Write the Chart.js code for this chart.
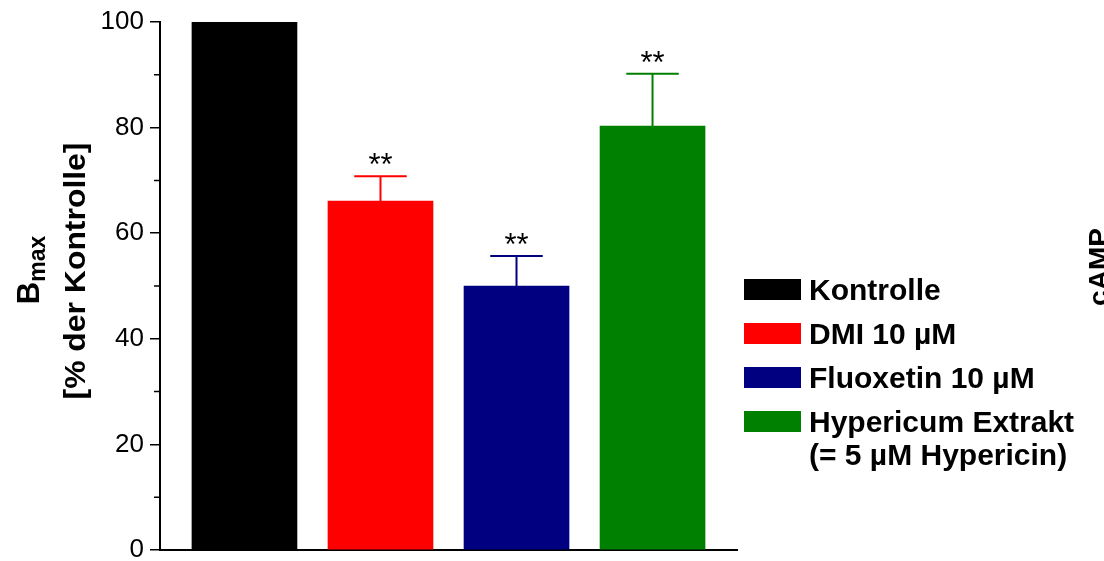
<!DOCTYPE html>
<html lang="de">
<head>
    <meta charset="UTF-8">
    <title>Bmax</title>
    <style>
        body {
            margin: 0;
            background-color: white;
        }
        #chartBox {
            width: 1104px;
            height: 561px;
        }
    </style>
    <script src="https://cdn.jsdelivr.net/npm/chart.js"></script>
</head>
<body>
    <div id="chartBox">
        <canvas id="bmaxChart" width="1104" height="561"></canvas>
    </div>

    <script>
        // Daten
        const categories = ['Kontrolle', 'DMI 10 µM', 'Fluoxetin 10 µM', 'Hypericum Extrakt'];
        const legendLines = [['Kontrolle'], ['DMI 10 µM'], ['Fluoxetin 10 µM'], ['Hypericum Extrakt', '(= 5 µM Hypericin)']];
        const bmaxValues = [100, 66.1, 50.0, 80.3];
        const errorValues = [0, 4.7, 5.7, 9.9];
        const significance = ['', '**', '**', '**'];
        const barColors = ['#000000', '#ff0000', '#000080', '#008000'];
        const majorTicks = [0, 20, 40, 60, 80, 100];
        const minorTicks = [10, 30, 50, 70, 90];

        const FONT = 'Arial, "Liberation Sans", sans-serif';

        // Fehlerbalken, Sterne und kleine Teilstriche
        const extrasPlugin = {
            id: 'extras',
            afterDatasetsDraw(chart) {
                const ctx = chart.ctx;
                const yScale = chart.scales.y;
                const meta = chart.getDatasetMeta(0);
                ctx.save();
                meta.data.forEach((bar, i) => {
                    if (!errorValues[i]) return;
                    const yTop = yScale.getPixelForValue(bmaxValues[i]);
                    const yErr = yScale.getPixelForValue(bmaxValues[i] + errorValues[i]);
                    const capHalf = bar.width / 4;
                    ctx.strokeStyle = barColors[i];
                    ctx.lineWidth = 2;
                    ctx.beginPath();
                    ctx.moveTo(bar.x, yTop);
                    ctx.lineTo(bar.x, yErr);
                    ctx.moveTo(bar.x - capHalf, yErr);
                    ctx.lineTo(bar.x + capHalf, yErr);
                    ctx.stroke();

                    ctx.fillStyle = '#000';
                    ctx.font = '31px ' + FONT;
                    ctx.textAlign = 'center';
                    ctx.textBaseline = 'alphabetic';
                    ctx.fillText(significance[i], bar.x, yErr - 1);
                });

                // kleine Teilstriche
                ctx.strokeStyle = '#000';
                ctx.lineWidth = 1.5;
                ctx.beginPath();
                minorTicks.forEach(v => {
                    const y = yScale.getPixelForValue(v);
                    ctx.moveTo(chart.chartArea.left, y);
                    ctx.lineTo(chart.chartArea.left - 6, y);
                });
                ctx.stroke();
                ctx.restore();
            },
            afterDraw(chart) {
                const ctx = chart.ctx;
                ctx.save();

                // Legende
                ctx.textAlign = 'left';
                ctx.textBaseline = 'alphabetic';
                ctx.font = 'bold 30px ' + FONT;
                legendLines.forEach((lines, i) => {
                    const top = 279 + i * 44;
                    ctx.fillStyle = barColors[i];
                    ctx.fillRect(744, top, 57, 21);
                    ctx.fillStyle = '#000';
                    lines.forEach((line, j) => {
                        ctx.fillText(line, 809, top + 21 + j * 33);
                    });
                });

                // Achsentitel
                ctx.fillStyle = '#000';
                ctx.save();
                ctx.translate(39, 270);
                ctx.rotate(-Math.PI / 2);
                ctx.font = 'bold 31px ' + FONT;
                const bW = ctx.measureText('B').width;
                ctx.font = 'bold 23px ' + FONT;
                const subW = ctx.measureText('max').width;
                const startX = -(bW + subW) / 2;
                ctx.font = 'bold 31px ' + FONT;
                ctx.fillText('B', startX, 0);
                ctx.font = 'bold 23px ' + FONT;
                ctx.fillText('max', startX + bW, 6);
                ctx.restore();

                ctx.save();
                ctx.translate(85, 271);
                ctx.rotate(-Math.PI / 2);
                ctx.scale(1.1, 1);
                ctx.font = 'bold 29px ' + FONT;
                ctx.textAlign = 'center';
                ctx.fillText('[% der Kontrolle]', 0, 0);
                ctx.restore();

                // angeschnittener Titel des Nachbardiagramms
                ctx.save();
                ctx.translate(1108, 267);
                ctx.rotate(-Math.PI / 2);
                ctx.font = 'bold 28px ' + FONT;
                ctx.textAlign = 'center';
                ctx.fillText('cAMP', 0, 0);
                ctx.restore();

                ctx.restore();
            }
        };

        const ctx = document.getElementById('bmaxChart').getContext('2d');
        const chart = new Chart(ctx, {
            type: 'bar',
            data: {
                datasets: [{
                    label: 'Bmax',
                    data: bmaxValues.map((v, i) => ({ x: i, y: v })),
                    backgroundColor: barColors,
                    borderWidth: 0,
                    barThickness: 105
                }]
            },
            options: {
                responsive: false,
                animation: false,
                layout: {
                    padding: { left: 0, top: 22, right: 367, bottom: 0 }
                },
                plugins: {
                    legend: { display: false },
                    tooltip: { enabled: false }
                },
                scales: {
                    x: {
                        type: 'linear',
                        offset: false,
                        min: -0.621,
                        max: categories.length - 1 + 0.621,
                        ticks: { display: false },
                        grid: { display: false, offset: false },
                        border: { display: true, color: '#000', width: 2 },
                        afterFit: scale => {
                            scale.height = 11;
                            scale.paddingLeft = 0;
                            scale.paddingRight = 0;
                        }
                    },
                    y: {
                        min: 0,
                        max: 100,
                        afterBuildTicks: scale => {
                            scale.ticks = majorTicks.map(v => ({ value: v }));
                        },
                        ticks: {
                            color: '#000',
                            font: { family: FONT, size: 26 },
                            padding: 6
                        },
                        grid: {
                            drawOnChartArea: false,
                            drawTicks: true,
                            tickLength: 10,
                            color: '#000',
                            lineWidth: 1.5
                        },
                        border: { display: true, color: '#000', width: 2 },
                        afterFit: scale => {
                            scale.width = 160;
                            scale.paddingTop = 0;
                            scale.paddingBottom = 0;
                        }
                    }
                }
            },
            plugins: [extrasPlugin]
        });
    </script>
</body>
</html>
